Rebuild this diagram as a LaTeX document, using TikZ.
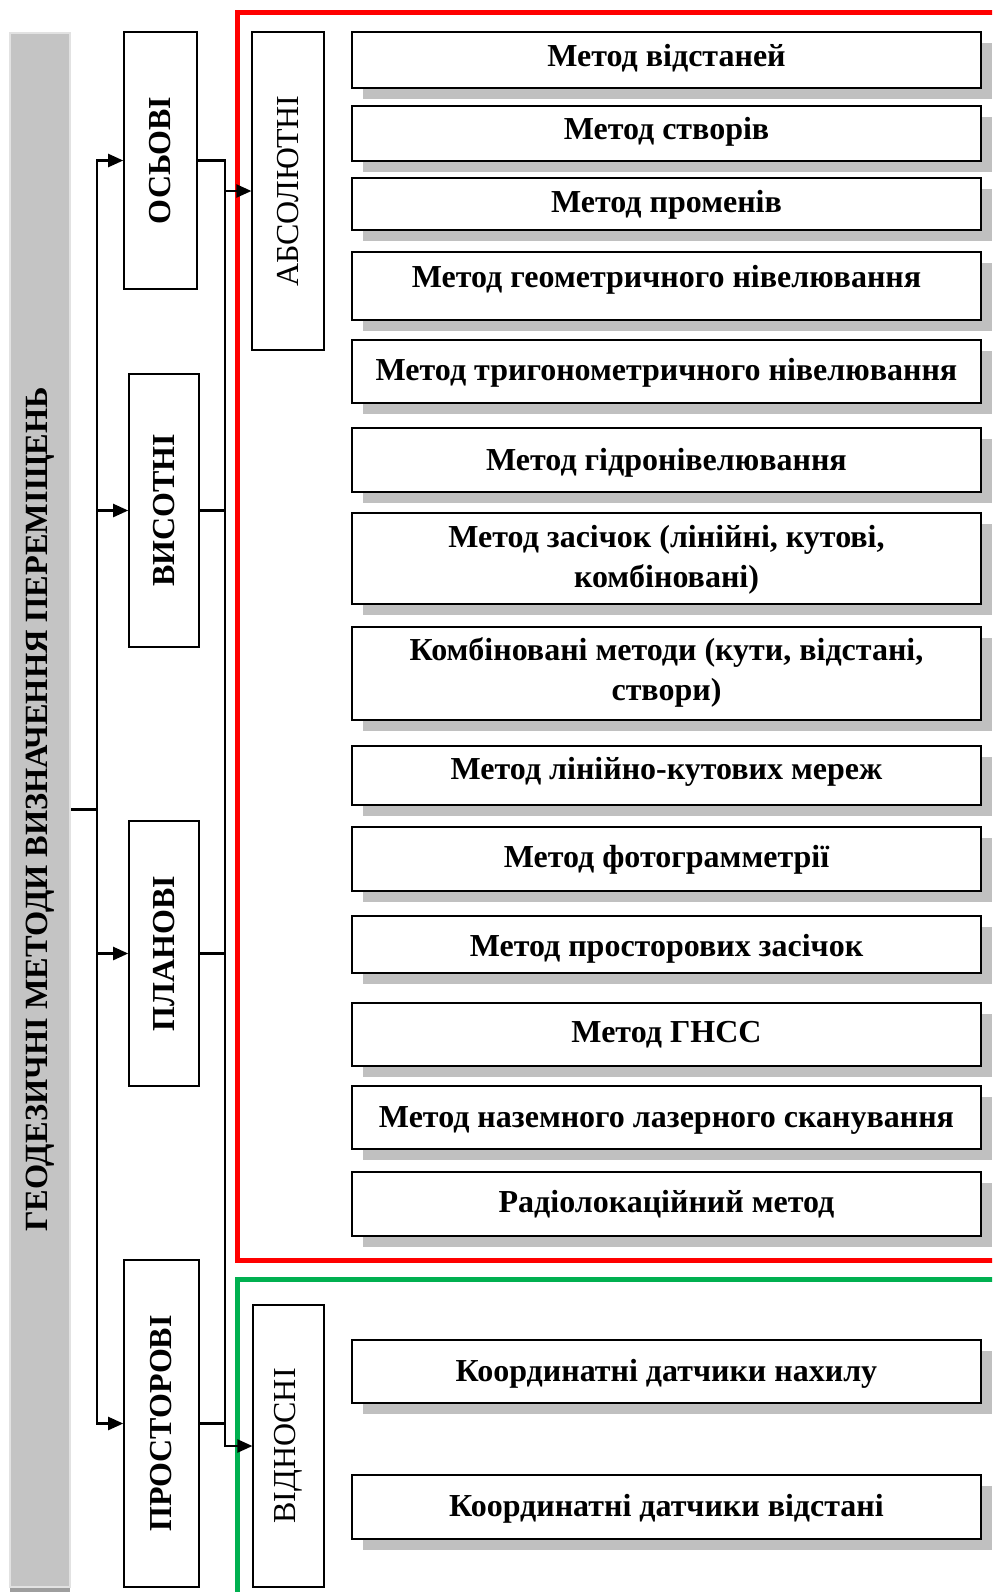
\documentclass[tikz,border=0pt]{standalone}
\usepackage{fontspec}
\setmainfont{Liberation Serif}
\usepackage{tikz}
\usetikzlibrary{arrows.meta, calc}
\definecolor{bargray}{HTML}{C4C4C4}
\definecolor{barline}{HTML}{E2E2E2}
\definecolor{shadegray}{HTML}{C0C0C0}
\definecolor{framered}{HTML}{FF0000}
\definecolor{framegreen}{HTML}{00B050}

\begin{document}
\begin{tikzpicture}[x=0.5pt, y=-0.5pt,
	mbox/.style={draw, line width=0.8pt, fill=white, preaction={fill=shadegray, transform canvas={shift={(5.5pt,-5.5pt)}}}},
	mtext/.style={anchor=base, align=center, inner sep=0pt, font=\fontsize{16}{20}\selectfont\bfseries},
	catbox/.style={draw, line width=0.8pt, fill=white, inner sep=0pt, font=\fontsize{16}{19}\selectfont\bfseries},
	kindbox/.style={draw, line width=0.6pt, fill=white, inner sep=0pt, font=\fontsize{16}{19}\selectfont},
	conn/.style={line width=1.1pt},
	arr/.style={-{Triangle[length=7.5pt, width=6.5pt]}}]
			\useasboundingbox (0,0) rectangle (992,1592);
			\clip (0,0) rectangle (992,1592);
			
			% frames
			\draw [framered, line width=2.5pt] (1010,12) -- (237,12) -- (237,1260) -- (1010,1260);
			\draw [framegreen, line width=2.5pt] (1010,1279) -- (237,1279) -- (237,1610);
			
			% title bar
			\fill [black!38] (10,1586) rectangle (70,1600);
			\node [fill=bargray, draw=barline, line width=1pt, minimum width=30pt, minimum height=777pt, inner sep=0pt, font=\fontsize{16.2}{19}\selectfont\bfseries] (title) at (40,809.5) {\rotatebox{90}{ГЕОДЕЗИЧНІ МЕТОДИ ВИЗНАЧЕННЯ ПЕРЕМІЩЕНЬ}};
			
			% kinds of displacement
			\node [catbox, minimum width=36.5pt, minimum height=128.5pt] (osi) at (160.5,160.5) {\rotatebox{90}{ОСЬОВІ}};
			\node [catbox, minimum width=35pt, minimum height=136.5pt] (vys) at (164,510.5) {\rotatebox{90}{ВИСОТНІ}};
			\node [catbox, minimum width=35pt, minimum height=132.5pt] (plan) at (164,953.5) {\rotatebox{90}{ПЛАНОВІ}};
			\node [catbox, minimum width=37.5pt, minimum height=163.5pt] (prost) at (161.5,1423.5) {\rotatebox{90}{ПРОСТОРОВІ}};
			
			\node [kindbox, minimum width=36pt, minimum height=159pt] (abs) at (288,191) {\rotatebox{90}{АБСОЛЮТНІ}};
			\node [kindbox, minimum width=35.5pt, minimum height=141pt] (vidn) at (288.5,1446) {\rotatebox{90}{ВІДНОСНІ}};
			
			% methods
			\draw [mbox] (352,32) rectangle (981,88);
			\node [mtext] (m1) at (666.5,66) {Метод відстаней};
			\draw [mbox] (352,106) rectangle (981,161);
			\node [mtext] (m2) at (666.5,139) {Метод створів};
			\draw [mbox] (352,178) rectangle (981,230);
			\node [mtext] (m3) at (666.5,212) {Метод променів};
			\draw [mbox] (352,252) rectangle (981,320);
			\node [mtext] (m4) at (666.5,287) {Метод геометричного нівелювання};
			\draw [mbox] (352,340) rectangle (981,403);
			\node [mtext] (m5) at (666.5,380) {Метод тригонометричного нівелювання};
			\draw [mbox] (352,428) rectangle (981,492);
			\node [mtext] (m6) at (666.5,470) {Метод гідронівелювання};
			\draw [mbox] (352,513) rectangle (981,604);
			\node [mtext] (m7) at (666.5,587) {Метод засічок (лінійні, кутові,\\комбіновані)};
			\draw [mbox] (352,627) rectangle (981,720);
			\node [mtext] (m8) at (666.5,700) {Комбіновані методи (кути, відстані,\\створи)};
			\draw [mbox] (352,746) rectangle (981,805);
			\node [mtext] (m9) at (666.5,779) {Метод лінійно-кутових мереж};
			\draw [mbox] (352,827) rectangle (981,891);
			\node [mtext] (m10) at (666.5,867) {Метод фотограмметрії};
			\draw [mbox] (352,916) rectangle (981,973);
			\node [mtext] (m11) at (666.5,956) {Метод просторових засічок};
			\draw [mbox] (352,1003) rectangle (981,1066);
			\node [mtext] (m12) at (666.5,1042) {Метод ГНСС};
			\draw [mbox] (352,1086) rectangle (981,1149);
			\node [mtext] (m13) at (666.5,1127) {Метод наземного лазерного сканування};
			\draw [mbox] (352,1172) rectangle (981,1236);
			\node [mtext] (m14) at (666.5,1212) {Радіолокаційний метод};
			
			\draw [mbox] (352,1340) rectangle (981,1403);
			\node [mtext] (m15) at (666.5,1381) {Координатні датчики нахилу};
			\draw [mbox] (352,1475) rectangle (981,1539);
			\node [mtext] (m16) at (666.5,1516) {Координатні датчики відстані};
			
			% left trunk
			\coordinate (tx) at (97,0);
			\draw [conn] (title.east) -- (tx |- title.east) coordinate (trunk);
			\draw [conn, arr] (trunk) |- (osi.west);
			\draw [conn, arr] (trunk) |- (vys.west);
			\draw [conn, arr] (trunk) |- (plan.west);
			\draw [conn, arr] (trunk) |- (prost.west);
			
			% right bus
			\coordinate (bx) at (225,0);
			\draw [conn, arr] (osi.east) -| (bx |- abs.west) -- (abs.west);
			\draw [conn] (vys.east) -- (bx |- vys.east);
			\draw [conn] (plan.east) -- (bx |- plan.east);
			\draw [conn] (prost.east) -- (bx |- prost.east);
			\draw [conn, arr] (bx |- abs.west) -- (bx |- vidn.west) -- (vidn.west);
\end{tikzpicture}
\end{document}
